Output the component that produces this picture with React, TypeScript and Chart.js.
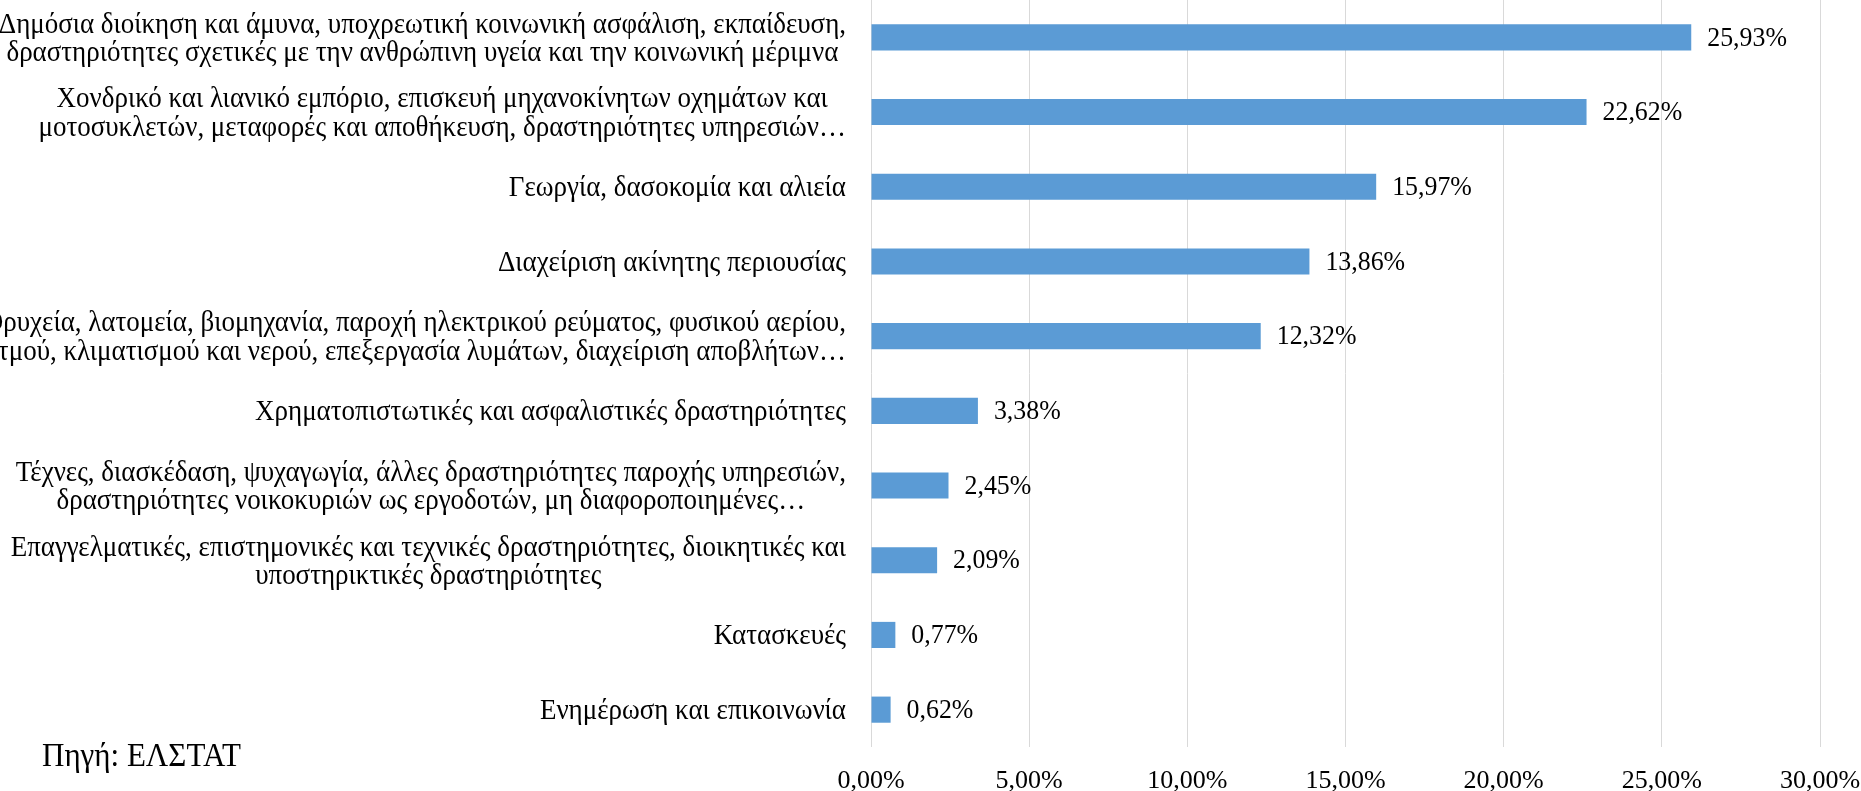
import React, { useEffect, useRef } from "react";
import { Chart, registerables } from "chart.js";

Chart.register(...registerables);

const categories: string[][] = [
  ["Δημόσια διοίκηση και άμυνα, υποχρεωτική κοινωνική ασφάλιση, εκπαίδευση,", "δραστηριότητες σχετικές με την ανθρώπινη υγεία και την κοινωνική μέριμνα"],
  ["Χονδρικό και λιανικό εμπόριο, επισκευή μηχανοκίνητων οχημάτων και", "μοτοσυκλετών, μεταφορές και αποθήκευση, δραστηριότητες υπηρεσιών…"],
  ["Γεωργία, δασοκομία και αλιεία"],
  ["Διαχείριση ακίνητης περιουσίας"],
  ["Ορυχεία, λατομεία, βιομηχανία, παροχή ηλεκτρικού ρεύματος, φυσικού αερίου,", "ατμού, κλιματισμού και νερού, επεξεργασία λυμάτων, διαχείριση αποβλήτων…"],
  ["Χρηματοπιστωτικές και ασφαλιστικές δραστηριότητες"],
  ["Τέχνες, διασκέδαση, ψυχαγωγία, άλλες δραστηριότητες παροχής υπηρεσιών,", "δραστηριότητες νοικοκυριών ως εργοδοτών, μη διαφοροποιημένες…"],
  ["Επαγγελματικές, επιστημονικές και τεχνικές δραστηριότητες, διοικητικές και", "υποστηρικτικές δραστηριότητες"],
  ["Κατασκευές"],
  ["Ενημέρωση και επικοινωνία"],
];

const values: number[] = [25.93, 22.62, 15.97, 13.86, 12.32, 3.38, 2.45, 2.09, 0.77, 0.62];
const valueLabels: string[] = ["25,93%", "22,62%", "15,97%", "13,86%", "12,32%", "3,38%", "2,45%", "2,09%", "0,77%", "0,62%"];
const tickLabels: string[] = ["0,00%", "5,00%", "10,00%", "15,00%", "20,00%", "25,00%", "30,00%"];
const sourceText = "Πηγή: ΕΛΣΤΑΤ";

const FONT = '"Liberation Serif", "Times New Roman", serif';
const W = 1861;
const H = 791;
const SQ = 0.94;

function drawText(ctx: CanvasRenderingContext2D, text: string, x: number, y: number, align: CanvasTextAlign) {
  ctx.save();
  ctx.translate(x, y);
  ctx.scale(SQ, 1);
  ctx.textAlign = align;
  ctx.fillText(text, 0, 0);
  ctx.restore();
}

export default function App() {
  const ref = useRef<HTMLCanvasElement | null>(null);

  useEffect(() => {
    if (!ref.current) return;
    const labelPlugin = {
      id: "customLabels",
      afterDatasetsDraw(chart: any) {
        const ctx: CanvasRenderingContext2D = chart.ctx;
        const meta = chart.getDatasetMeta(0);
        ctx.save();
        ctx.fillStyle = "#000000";
        ctx.textBaseline = "middle";
        ctx.font = `27.5px ${FONT}`;
        meta.data.forEach((bar: any, i: number) => {
          drawText(ctx, valueLabels[i], bar.x + 16, bar.y + 1, "left");
        });
        // category labels, centered per block, right-aligned as a block
        const yScale = chart.scales.y;
        const rightX = chart.chartArea.left - 25;
        const lh = 28.5;
        ctx.font = `28.7px ${FONT}`;
        categories.forEach((lines, i) => {
          const py = yScale.getPixelForTick(i);
          const bw = Math.max(...lines.map((l) => ctx.measureText(l).width)) * SQ;
          const cx = rightX - bw / 2;
          lines.forEach((l, j) => {
            drawText(ctx, l, cx, py + 2 + (j - (lines.length - 1) / 2) * lh, "center");
          });
        });
        ctx.font = `33px ${FONT}`;
        drawText(ctx, sourceText, 42, 757, "left");
        ctx.restore();
      },
    };

    const chart = new Chart(ref.current, {
      type: "bar",
      data: {
        labels: categories,
        datasets: [
          {
            data: values,
            backgroundColor: "#5B9BD5",
            borderWidth: 0,
            barPercentage: 0.35,
            categoryPercentage: 1,
          },
        ],
      },
      options: {
        indexAxis: "y",
        responsive: false,
        animation: false,
        layout: { padding: { left: 0, right: 41, top: 0, bottom: 0 } },
        plugins: { legend: { display: false }, tooltip: { enabled: false } },
        scales: {
          x: {
            min: 0,
            max: 30,
            ticks: {
              stepSize: 5,
              padding: 19,
              color: "#000000",
              font: { family: FONT, size: 26 },
              callback: (v: any) => tickLabels[Math.round(Number(v) / 5)],
              maxRotation: 0,
            },
            grid: { color: "#d9d9d9", lineWidth: 1, drawTicks: false },
            border: { display: false },
            afterFit: (s: any) => {
              s.height = 44;
              s.paddingRight = 0;
              s.paddingLeft = 0;
            },
          },
          y: {
            ticks: { display: false },
            grid: { display: false, drawTicks: false },
            border: { display: false },
            afterFit: (s: any) => {
              s.width = 871;
              s.paddingTop = 0;
              s.paddingBottom = 0;
            },
          },
        },
      },
      plugins: [labelPlugin],
    });
    return () => chart.destroy();
  }, []);

  return (
    <div style={{ position: "absolute", left: 0, top: 0, width: W, height: H, background: "#ffffff" }}>
      <canvas ref={ref} width={W} height={H} style={{ display: "block" }} />
    </div>
  );
}
